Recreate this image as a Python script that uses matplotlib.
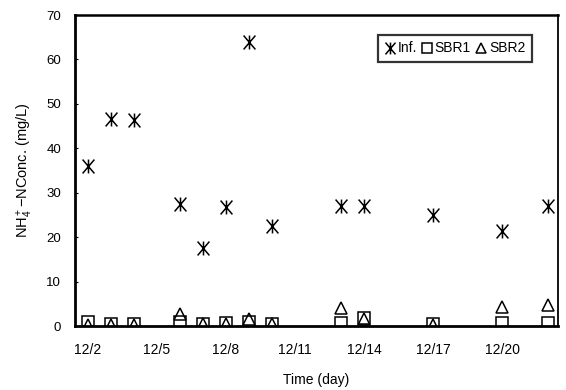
import matplotlib
matplotlib.use("Agg")
import matplotlib.pyplot as plt
from matplotlib.path import Path

plt.rcParams['font.family'] = ['Liberation Sans', 'DejaVu Sans']
plt.rcParams['mathtext.fontset'] = 'custom'
plt.rcParams['mathtext.rm'] = 'Liberation Sans'
plt.rcParams['mathtext.it'] = 'Liberation Sans'

# Data (day of December)
inf_days = [2, 3, 4, 6, 7, 8, 9, 10, 13, 14, 17, 20, 22]
inf_vals = [36.0, 46.5, 46.3, 27.5, 17.5, 26.7, 64.0, 22.5, 27.0, 27.0, 25.0, 21.3, 27.0]

sbr_days = [2, 3, 4, 6, 7, 8, 9, 10, 13, 14, 17, 20, 22]
sbr1_vals = [1.0, 0.5, 0.4, 0.8, 0.5, 0.7, 0.8, 0.5, 0.6, 1.7, 0.5, 0.7, 0.7]
sbr2_vals = [0.3, 0.3, 0.3, 2.6, 0.4, 0.4, 1.5, 0.4, 4.0, 1.5, 0.3, 4.2, 4.8]

tick_days = [2, 5, 8, 11, 14, 17, 20]
tick_labels = ['12/2', '12/5', '12/8', '12/11', '12/14', '12/17', '12/20']

# asterisk marker: vertical line + X
ast = Path([(0, -1), (0, 1), (-0.85, -1), (0.85, 1), (-0.85, 1), (0.85, -1)],
           [Path.MOVETO, Path.LINETO, Path.MOVETO, Path.LINETO, Path.MOVETO, Path.LINETO])

fig = plt.figure(figsize=(5.66, 3.90), dpi=100)
ax = fig.add_axes([0.1325, 0.164, 0.8535, 0.7975])

ax.plot(inf_days, inf_vals, linestyle='none', marker=ast, ms=10, mec='black',
        mew=1.1, color='black', label='Inf.')
ax.plot(sbr_days, sbr1_vals, linestyle='none', marker='s', ms=8, mfc='white',
        mec='black', mew=1.1, label='SBR1')
ax.plot(sbr_days, sbr2_vals, linestyle='none', marker='^', ms=8, mfc='none',
        mec='black', mew=1.1, label='SBR2')

ax.set_xlim(1.435, 22.43)
ax.set_ylim(0, 70)
ax.set_yticks(range(0, 71, 10))
ax.set_xticks(tick_days)
ax.set_xticklabels(tick_labels)
ax.tick_params(axis='y', length=2, direction='in', pad=10, labelsize=9.5)
ax.tick_params(axis='x', length=0, pad=12, labelsize=10)

for s in ax.spines.values():
    s.set_color('black')
ax.spines['left'].set_linewidth(2.0)
ax.spines['bottom'].set_linewidth(2.0)
ax.spines['top'].set_linewidth(1.8)
ax.spines['right'].set_linewidth(1.3)

ax.set_xlabel('Time (day)', fontsize=10, labelpad=12)
ax.set_ylabel(r'NH$_4^+$$-$NConc. (mg/L)', fontsize=10.5, labelpad=8)

leg = ax.legend(loc='upper right', bbox_to_anchor=(0.945, 0.935), ncol=3,
                frameon=True, fancybox=False, edgecolor='black', fontsize=10,
                handlelength=0.8, handletextpad=0.15, columnspacing=0.35,
                borderpad=0.45, borderaxespad=0.0, markerscale=0.85)
leg.get_frame().set_linewidth(1.6)

fig.savefig('out.png', dpi=100)
